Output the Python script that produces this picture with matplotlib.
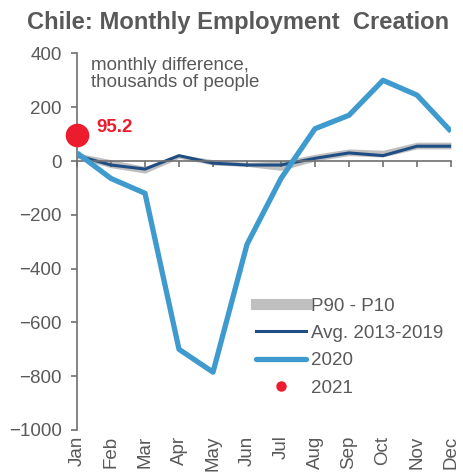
import matplotlib.pyplot as plt
from matplotlib.lines import Line2D

plt.rcParams['font.family'] = ['Liberation Sans', 'DejaVu Sans']

months = ['Jan', 'Feb', 'Mar', 'Apr', 'May', 'Jun', 'Jul', 'Aug', 'Sep', 'Oct', 'Nov', 'Dec']
y2020 = [30, -65, -120, -700, -785, -310, -65, 120, 170, 300, 245, 110]
avg_13_19 = [20, -15, -30, 20, -8, -15, -15, 10, 30, 20, 55, 55]
p90 = [30, 5, -20, 25, 5, -5, 0, 25, 45, 40, 70, 70]
p10 = [10, -25, -45, 10, -15, -20, -35, 0, 20, 15, 45, 45]
y2021 = [95.2]

gray_txt = '#595959'
light_blue = '#3F9ACE'
dark_blue = '#1F4E84'
band_gray = '#BFBFBF'
red = '#EC1C2E'

fig = plt.figure(figsize=(4.63, 4.72), dpi=100)
ax = fig.add_axes([77 / 463, 1 - 430 / 472, (451 - 77) / 463, (430 - 53.4) / 472])

x = list(range(len(months)))
ax.fill_between(x, p10, p90, color=band_gray, lw=0, zorder=1)
ax.plot(x, avg_13_19, color=dark_blue, lw=2.2, zorder=2)
ax.plot(x, y2020, color=light_blue, lw=3.8, zorder=3, solid_capstyle='butt')
ax.plot(x[:len(y2021)], y2021, 'o', color=red, ms=16, zorder=4, clip_on=False)
ax.text(0.58, 126, f'{y2021[0]:.1f}', color=red, fontsize=13.5, fontweight='bold',
        va='center', ha='left')

ax.set_xlim(0, 11)
ax.set_ylim(-1000, 400)
ax.set_yticks(range(-1000, 401, 200))
ax.tick_params(axis='y', colors='#707070', labelcolor=gray_txt, labelsize=13.5,
               length=4, width=1.2, pad=7)

# x axis drawn at zero, labels kept at the bottom
ax.spines['bottom'].set_position(('data', 0))
ax.spines['bottom'].set_color('#707070')
ax.spines['bottom'].set_linewidth(1.2)
ax.spines['left'].set_color('#707070')
ax.spines['left'].set_linewidth(1.2)
ax.spines['top'].set_visible(False)
ax.spines['right'].set_visible(False)
ax.set_xticks(x)
ax.tick_params(axis='x', colors='#707070', length=4, width=1.2, labelbottom=False)

sec = ax.secondary_xaxis('bottom')
sec.set_xticks(x)
sec.set_xticklabels(months, rotation=90, fontsize=13.5, color=gray_txt)
sec.tick_params(length=0, pad=4)
sec.spines['bottom'].set_visible(False)

ax.text(0.037, 0.99, 'monthly difference,\nthousands of people', transform=ax.transAxes,
        fontsize=13.5, color=gray_txt, va='top', ha='left', linespacing=1.0)

fig.text(0.514, 0.953, 'Chile: Monthly Employment  Creation', fontsize=17.1,
         fontweight='bold', color=gray_txt, ha='center', va='center')

handles = [
    Line2D([], [], color=band_gray, lw=8),
    Line2D([], [], color=dark_blue, lw=2.2),
    Line2D([], [], color=light_blue, lw=3.8, solid_capstyle='round'),
    Line2D([], [], color=red, marker='o', ls='none', ms=6.5),
]
labels = ['P90 - P10', 'Avg. 2013-2019', '2020', '2021']
leg = ax.legend(handles, labels, loc='lower right', bbox_to_anchor=(1.024, 0.043),
                frameon=False, fontsize=13.5, handlelength=2.7, handletextpad=0.25,
                labelspacing=0.55, labelcolor=gray_txt)

fig.savefig('out.png', dpi=100)
